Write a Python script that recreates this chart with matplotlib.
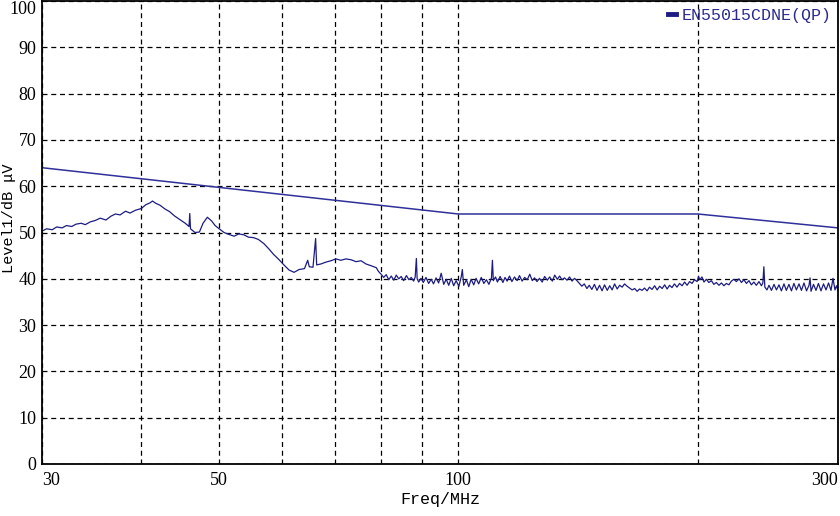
import matplotlib
matplotlib.use('Agg')
import matplotlib.pyplot as plt
from matplotlib.lines import Line2D

freq_low = [30.0, 30.4, 30.9, 31.3, 31.8, 32.2, 32.7, 33.1, 33.6, 34.0,
            34.5, 35.0, 35.5, 36.1, 36.6, 37.1, 37.6, 38.2, 38.7, 39.3,
            40.0, 40.5, 41.0, 41.3, 41.7, 42.2, 42.8, 43.4, 44.0, 44.7,
            45.4, 45.9, 46.0, 46.1, 46.7, 47.3, 47.8, 48.4, 49.0, 49.5,
            50.0, 50.8, 51.5, 52.3, 53.0, 53.8, 54.5, 55.3, 56.1, 57.0,
            57.8, 58.6, 59.5, 60.4, 61.3, 62.2, 63.1, 64.1, 64.7, 65.0,
            65.7, 66.2, 66.4, 67.2, 68.2, 69.2, 70.2, 71.2, 72.3, 73.4,
            74.4, 75.5, 76.6, 77.8]
level_low = [50.3, 50.8, 50.6, 51.2, 51.0, 51.5, 51.3, 51.8, 52.0, 51.7,
             52.3, 52.6, 53.1, 52.7, 53.5, 54.0, 53.8, 54.6, 54.2, 54.8,
             55.2, 56.0, 56.4, 56.8, 56.3, 55.9, 55.1, 54.5, 53.6, 52.8,
             52.0, 51.3, 54.1, 50.8, 50.0, 50.1, 52.0, 53.3, 52.5, 51.5,
             50.9, 50.0, 49.6, 49.2, 49.7, 49.5, 49.0, 48.9, 48.5, 47.6,
             46.5, 45.3, 44.2, 43.0, 41.9, 41.4, 42.0, 42.2, 44.0, 42.6,
             42.5, 48.7, 43.0, 43.2, 43.6, 43.9, 44.3, 44.0, 44.3, 44.1,
             43.7, 43.9, 43.2, 42.8]

# 78 - 300 MHz
freq_high = [78.9, 79.4, 80.0, 80.6, 81.2, 81.8, 82.4, 83.0, 83.6, 84.2,
             84.8, 85.4, 86.1, 86.7, 87.3, 87.9, 88.3, 88.6, 88.8, 89.2,
             89.8, 90.4, 91.1, 91.8, 92.5, 93.1, 93.8, 94.5, 95.2, 95.9,
             96.6, 97.3, 98.0, 98.7, 99.4, 100.2, 100.9, 101.2, 101.6, 102.4,
             103.1, 103.8, 104.6, 105.3, 106.1, 106.9, 107.7, 108.5, 109.3, 110.1,
             110.4, 110.7, 111.4, 112.0, 112.9, 113.8, 114.5, 115.2, 116.0, 116.8,
             117.7, 118.6, 119.4, 120.3, 121.2, 122.1, 123.0, 123.9, 124.7, 125.6,
             126.5, 127.5, 128.4, 129.4, 130.3, 131.3, 132.2, 133.2, 134.1, 135.0,
             136.0, 137.0, 138.0, 139.0, 140.0, 141.0, 142.0, 143.0, 144.0, 145.1,
             146.1, 147.2, 148.3, 149.4, 150.5, 151.6, 152.7, 153.9, 155.0, 156.1,
             157.2, 158.4, 159.5, 160.7, 161.8, 163.0, 164.2, 165.4, 166.6, 167.8,
             169.0, 170.2, 171.4, 172.7, 173.9, 175.2, 176.5, 177.8, 179.1, 180.4,
             181.7, 183.0, 184.3, 185.6, 186.9, 188.3, 189.7, 191.1, 192.5, 193.9,
             195.3, 196.7, 198.1, 199.6, 200.4, 201.2, 202.4, 203.6, 205.0, 206.5,
             208.0, 209.5, 211.0, 212.6, 214.1, 215.7, 217.2, 218.8, 220.4, 222.0,
             223.6, 225.3, 226.9, 228.5, 230.2, 231.9, 233.5, 235.2, 236.9, 238.7,
             240.4, 241.4, 242.1, 242.8, 244.3, 245.7, 247.5, 249.3, 251.1, 252.9,
             254.7, 256.6, 258.4, 260.3, 262.2, 264.1, 266.0, 268.0, 269.9, 271.9,
             273.9, 275.9, 276.7, 277.5, 279.5, 281.5, 283.5, 285.6, 287.7, 289.8,
             291.9, 294.0, 295.7, 297.4, 298.7, 300.0]
level_high = [42.4, 41.6, 41.0, 40.3, 40.9, 39.8, 40.6, 39.7, 40.8, 40.0,
              40.5, 39.6, 40.7, 39.8, 40.3, 39.5, 40.4, 44.4, 40.0, 39.3,
              40.1, 39.2, 40.3, 39.0, 39.9, 38.9, 40.2, 39.1, 41.2, 38.8,
              39.9, 38.6, 40.1, 38.5, 39.6, 38.4, 40.5, 42.0, 38.6, 39.8,
              38.3, 39.9, 38.7, 40.1, 38.9, 40.3, 39.0, 39.8, 38.8, 40.2,
              44.0, 39.6, 40.4, 39.3, 40.5, 39.2, 40.3, 39.5, 40.6, 39.4,
              40.4, 39.6, 40.7, 39.5, 40.3, 39.8, 41.0, 39.6, 40.2, 39.4,
              40.1, 39.3, 40.5, 39.7, 40.4, 39.5, 40.8, 39.9, 40.6, 39.8,
              40.2, 39.7, 40.4, 39.5, 40.1, 39.6, 39.0, 38.4, 38.9, 37.9,
              38.6, 37.7, 38.8, 37.5, 38.6, 37.4, 38.7, 37.5, 38.5, 37.6,
              38.9, 37.8, 38.6, 38.2, 38.9, 38.4, 38.0, 37.6, 37.9, 37.3,
              37.8, 37.5, 38.0, 37.4, 38.2, 37.7, 38.5, 37.6, 38.4, 37.9,
              38.7, 37.8, 38.6, 38.1, 38.9, 38.2, 39.0, 38.5, 39.3, 38.6,
              39.4, 39.0, 39.8, 39.4, 40.5, 39.8, 40.4, 39.3, 39.9, 39.2,
              39.6, 38.8, 39.2, 38.6, 39.1, 38.5, 39.0, 38.7, 39.5, 39.9,
              39.4, 40.0, 39.2, 39.8, 39.0, 39.6, 38.7, 39.3, 38.6, 39.4,
              38.5, 39.1, 42.6, 38.2, 37.6, 38.6, 37.5, 38.8, 37.6, 38.7,
              37.4, 38.9, 37.5, 38.8, 37.4, 39.0, 37.6, 38.9, 37.5, 39.1,
              37.4, 38.6, 40.2, 37.3, 38.8, 37.5, 39.0, 37.4, 38.9, 37.6,
              39.1, 37.5, 40.1, 37.6, 38.5, 37.5]

freq = freq_low + freq_high
level = level_low + level_high

# EN55015 CDNE QP limit
limit_freq = [30, 100, 200, 300]
limit_level = [64, 54, 54, 51]

xtick_vals = [30, 40, 50, 60, 70, 80, 90, 100, 200, 300]
xtick_text = ['30', '', '50', '', '', '', '', '100', '', '300']
ytick_vals = list(range(0, 101, 10))

fig = plt.figure(figsize=(8.4, 5.16), dpi=100)
ax = fig.add_axes([0.05, 0.1008, 0.9476, 0.8972])

ax.plot(freq, level, color='#1c1c82', lw=0.9)
ax.plot(limit_freq, limit_level, color='#30309a', lw=1.1)

ax.set_xscale('log')
ax.set_xlim(30, 300)
ax.set_ylim(0, 100)
ax.set_xticks(xtick_vals)
ax.set_xticklabels(xtick_text)
ax.minorticks_off()
ax.set_yticks(ytick_vals)
ax.tick_params(length=0, labelsize=13)
ax.tick_params(axis='x', pad=6)
ax.tick_params(axis='y', pad=4)
for t in ax.get_xticklabels() + ax.get_yticklabels():
    t.set_family('Liberation Serif')
xl = ax.get_xticklabels()
xl[0].set_horizontalalignment('left')
xl[-1].set_horizontalalignment('right')
ax.get_yticklabels()[-1].set_verticalalignment('top')

ax.grid(True, color='black', ls=(0, (4, 3)), lw=0.9)
for s in ax.spines.values():
    s.set_linewidth(1.3)

ax.set_xlabel('Freq/MHz', family='Liberation Mono', fontsize=12, labelpad=2)
ax.set_ylabel('Level1/dB μV', family='Liberation Mono', fontsize=11,
              va='center')
ax.yaxis.set_label_coords(-0.041, 0.53)

handle = Line2D([], [], color='#1c1c82', lw=3.5)
ax.legend([handle], ['EN55015CDNE(QP)'], loc='upper right', frameon=False,
          handlelength=0.5, handletextpad=0.3, borderaxespad=0.0,
          prop={'family': 'Liberation Mono', 'size': 12},
          labelcolor='#2a2a90')

plt.savefig('out.png')
